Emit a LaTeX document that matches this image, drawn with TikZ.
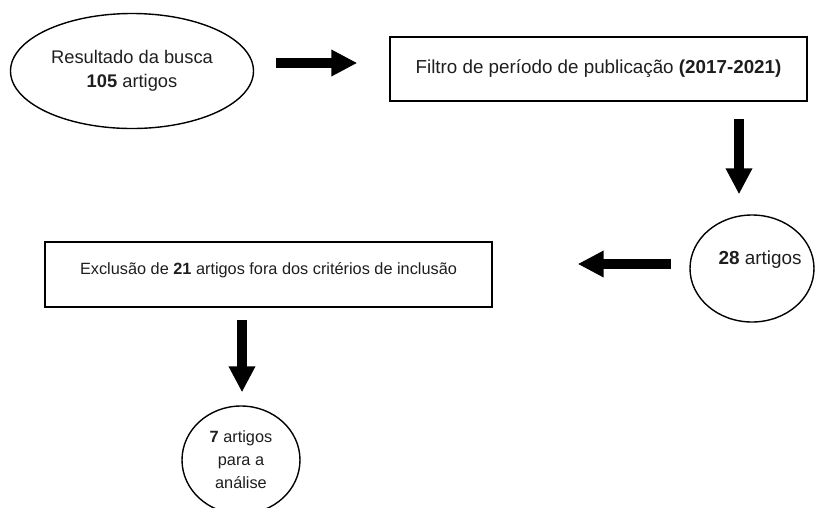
\documentclass[tikz,border=0pt]{standalone}
\usepackage{fontspec}
\setmainfont{Liberation Sans}
\usetikzlibrary{shapes.geometric,arrows.meta,calc}
\definecolor{txt}{HTML}{1E1E1E}
\tikzset{
  oval/.style={ellipse,draw,line width=1.4pt,inner sep=0pt,align=center,text=txt},
  boxnode/.style={rectangle,draw,line width=1.4pt,inner sep=0pt,align=center,text=txt},
  bigarrow/.style={line width=10pt,-{Triangle[length=26pt,width=25pt]}},
  plain/.style={text=txt,align=center,inner sep=0pt}
}
\begin{document}
\begin{tikzpicture}[x=1pt,y=-1pt]
\useasboundingbox (0,0) rectangle (815,507);
\node[oval,minimum width=243pt,minimum height=115pt,font=\fontsize{18.3}{24}\selectfont] (e1) at (132,71) {Resultado da busca\\\textbf{105} artigos};
\node[boxnode,minimum width=417pt,minimum height=64pt,font=\fontsize{18.8}{23}\selectfont] (b1) at (598.5,69) {Filtro de período de publicação \textbf{(2017-2021)}};
\node[oval,minimum width=124pt,minimum height=107pt] (e2) at (752,268.5) {};
\node[plain,font=\fontsize{18.9}{23}\selectfont] (e2t) at (760,260) {\textbf{28} artigos};
\node[boxnode,minimum width=447pt,minimum height=65pt] (b2) at (268.5,274.5) {};
\node[plain,font=\fontsize{16.3}{22}\selectfont] (b2t) at (268.5,270) {Exclusão de \textbf{21} artigos fora dos critérios de inclusão};
\node[oval,minimum width=118pt,minimum height=108pt,font=\fontsize{16.3}{23}\selectfont] (e3) at (241,460) {\textbf{7} artigos\\para a\\análise};
\draw[bigarrow] ($(e1.east)+(22,-8)$) -- ($(b1.west)+(-32,-6)$);
\draw[bigarrow] ($(b1.south)+(140.5,17)$) -- ($(e2.north)+(-13,-20)$);
\draw[bigarrow] ($(e2.west)+(-18,-4.5)$) -- ($(b2.east)+(85,-10.5)$);
\draw[bigarrow] ($(b2.south)+(-26.5,12)$) -- ($(e3.north)+(1,-13)$);
\end{tikzpicture}
\end{document}
